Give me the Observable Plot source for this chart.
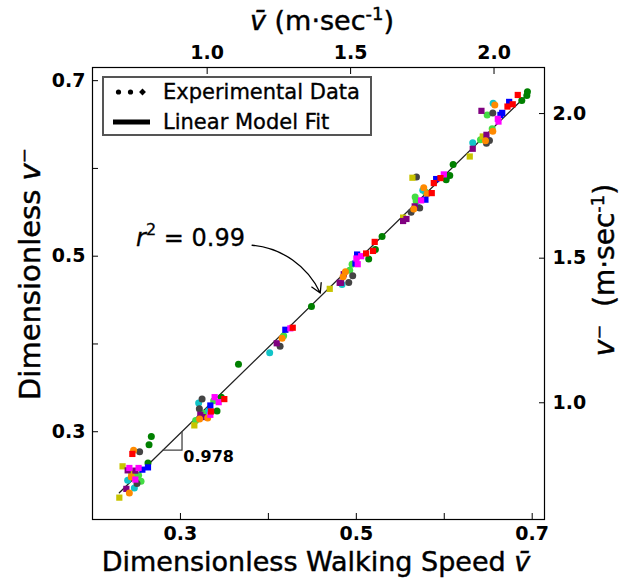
<!DOCTYPE html>
<html><head><meta charset="utf-8">
<script src="https://cdn.jsdelivr.net/npm/d3@7"></script>
<script src="https://cdn.jsdelivr.net/npm/@observablehq/plot@0.6"></script>
<style>
body{margin:0;background:#fff;}
#wrap{width:621px;height:581px;}
</style></head><body><div id="wrap"></div>
<script>
// ---- data: dimensionless walking speed (x) vs dimensionless v (y), per subject ----
const redPts = [[0.4277,0.4185],[0.5957,0.589],[0.5881,0.5833],[0.5858,0.5719],[0.5209,0.5163],[0.519,0.506],[0.5111,0.5031],[0.6836,0.6837],[0.6779,0.6731],[0.6719,0.6705],[0.3499,0.3372],[0.3348,0.3231],[0.2453,0.2747]];
const bluePts = [[0.4193,0.4162],[0.5908,0.5879],[0.5786,0.5644],[0.5009,0.5019],[0.499,0.4917],[0.6738,0.6758],[0.6659,0.6633],[0.6639,0.661],[0.334,0.3299],[0.2631,0.2594],[0.2567,0.2568]];
const greenPts = [[0.366,0.377],[0.449,0.4428],[0.6101,0.6045],[0.6063,0.592],[0.6022,0.5872],[0.5293,0.5224],[0.5217,0.5076],[0.5141,0.4969],[0.6946,0.6875],[0.6939,0.683],[0.6882,0.6773],[0.3465,0.3394],[0.3416,0.3235],[0.2669,0.2947],[0.2643,0.2852],[0.2631,0.2644]];
const limePts = [[0.4174,0.4095],[0.5786,0.5731],[0.5669,0.5674],[0.568,0.5629],[0.4952,0.4909],[0.4925,0.4841],[0.6488,0.661],[0.6545,0.6451],[0.6412,0.6326],[0.3378,0.3352],[0.3264,0.3212],[0.3173,0.3128],[0.2487,0.2503],[0.2524,0.2503],[0.2552,0.2435]];
const magentaPts = [[0.425,0.4178],[0.5995,0.5932],[0.5737,0.5636],[0.5001,0.4974],[0.5055,0.5],[0.5016,0.4909],[0.6609,0.6565],[0.6617,0.6534],[0.3389,0.3394],[0.3435,0.3337],[0.334,0.3193],[0.2524,0.2587],[0.2419,0.2587],[0.2487,0.2455]];
const cyanPts = [[0.4015,0.390],[0.5756,0.575],[0.5699,0.556],[0.4838,0.4678],[0.6556,0.6742],[0.6324,0.6292],[0.3207,0.3326],[0.3321,0.3242],[0.24,0.2447],[0.2476,0.236]];
const orangePts = [[0.4156,0.4065],[0.5767,0.5781],[0.5805,0.5712],[0.5653,0.5538],[0.4876,0.4822],[0.485,0.4765],[0.6575,0.6724],[0.6552,0.6424],[0.6469,0.6315],[0.3218,0.3144],[0.331,0.3156],[0.2467,0.2788],[0.2441,0.2485],[0.2419,0.2303]];
const purplePts = [[0.4095,0.4008],[0.4811,0.4697],[0.5664,0.5568],[0.5532,0.5401],[0.557,0.5424],[0.4857,0.4795],[0.4827,0.4697],[0.6423,0.6656],[0.648,0.6383],[0.6324,0.6224],[0.3226,0.3193],[0.3253,0.3167],[0.24,0.256],[0.2487,0.2557],[0.2385,0.2349]];
const grayPts = [[0.4133,0.3974],[0.5684,0.5902],[0.5721,0.5549],[0.5623,0.55],[0.4959,0.4776],[0.4914,0.4701],[0.6552,0.6633],[0.6514,0.6318],[0.648,0.6288],[0.3246,0.3372],[0.3215,0.3261],[0.2536,0.2773],[0.2506,0.2409]];
const yellowPts = [[0.4698,0.4628],[0.5638,0.5894],[0.5532,0.544],[0.6438,0.6364],[0.629,0.6136],[0.3158,0.3072],[0.2342,0.2606],[0.2441,0.253],[0.2305,0.2249]];

// linear model fit
const fitSlope = 0.978, fitIntercept = 0.005, fitR2 = 0.99;
const fitRange = [0.2305, 0.6943];
const slopeTriangleX = [0.2802, 0.3018];

// axes ticks
const xTicks = [0.3, 0.4, 0.5, 0.6, 0.7];
const yTicks = [0.3, 0.4, 0.5, 0.6, 0.7];
const labeledTicks = [0.3, 0.5, 0.7];
const speedTicks = [1.0, 1.5, 2.0];      // m·sec^-1
const topConv = {a: 0.0042, b: 0.3262};   // dimensionless = a + b * speed (top axis)
const rightConv = {a: 0.0035, b: 0.3295}; // right axis

// annotation anchors (data space)
const r2Label = {x: 0.312, y: 0.5105};
const r2Arrow = {x1: 0.3815, y1: 0.5125, x2: 0.459, y2: 0.458};
const slopeLabel = {x: 0.3033, y: 0.2716};

// ---- build ----
const fit = x => fitSlope * x + fitIntercept;
const fitPts = fitRange.map(x => ({x, y: fit(x)}));
const tri = [
  {x: slopeTriangleX[0], y: fit(slopeTriangleX[0])},
  {x: slopeTriangleX[1], y: fit(slopeTriangleX[0])},
  {x: slopeTriangleX[1], y: fit(slopeTriangleX[1])}
];
const subjects = [
  {pts: limePts, color: "#44dd44", symbol: "circle"},
  {pts: cyanPts, color: "#11c4c8", symbol: "circle"},
  {pts: grayPts, color: "#444444", symbol: "circle"},
  {pts: yellowPts, color: "#c8c400", symbol: "square"},
  {pts: purplePts, color: "#800080", symbol: "square"},
  {pts: orangePts, color: "#ff8a00", symbol: "circle"},
  {pts: greenPts, color: "#008000", symbol: "circle"},
  {pts: bluePts, color: "#0000ff", symbol: "square"},
  {pts: magentaPts, color: "#ff00ff", symbol: "square"},
  {pts: redPts, color: "#ff0000", symbol: "square"}
];
const isLabeled = d => labeledTicks.some(t => Math.abs(t - d) < 1e-6);
const font = "DejaVu Sans";

const plot = Plot.plot({
  width: 621, height: 581,
  marginLeft: 92, marginRight: 77, marginTop: 67, marginBottom: 62,
  x: {domain: [0.2, 0.714]},
  y: {domain: [0.2, 0.715]},
  style: {fontFamily: font, background: "#fff", color: "#000"},
  marks: [
    Plot.line(fitPts, {x: "x", y: "y", stroke: "#222", strokeWidth: 1.3}),
    Plot.line(tri, {x: "x", y: "y", stroke: "#444", strokeWidth: 1.3}),
    ...subjects.map(s => Plot.dot(s.pts, {x: d => d[0], y: d => d[1], fill: s.color, symbol: s.symbol, r: 3.5})),
    Plot.arrow([r2Arrow], {x1: "x1", y1: "y1", x2: "x2", y2: "y2", bend: 30, stroke: "#000", strokeWidth: 1.3, headLength: 12}),
    Plot.text([slopeLabel], {x: "x", y: "y", text: () => fitSlope.toFixed(3), textAnchor: "start", fontSize: 16, fontWeight: "bold"}),
    Plot.frame({stroke: "#000", strokeWidth: 1.2}),
    Plot.axisX({anchor: "bottom", ticks: xTicks, tickSize: -6, tickPadding: 13, tickFormat: d => isLabeled(d) ? d.toFixed(1) : "", label: null, fontSize: 19, fontWeight: "bold"}),
    Plot.axisY({anchor: "left", ticks: yTicks, tickSize: -6, tickPadding: 13, tickFormat: d => isLabeled(d) ? d.toFixed(1) : "", label: null, fontSize: 19, fontWeight: "bold"}),
    Plot.axisX({anchor: "top", ticks: speedTicks.map(v => topConv.a + topConv.b * v), tickSize: -6, tickPadding: 15, tickFormat: d => ((d - topConv.a) / topConv.b).toFixed(1), label: null, fontSize: 19, fontWeight: "bold"}),
    Plot.axisY({anchor: "right", ticks: speedTicks.map(v => rightConv.a + rightConv.b * v), tickSize: -6, tickPadding: 14, tickFormat: d => ((d - rightConv.a) / rightConv.b).toFixed(1), label: null, fontSize: 19, fontWeight: "bold"})
  ]
});
document.getElementById("wrap").appendChild(plot);

const svg = d3.select(plot);
const sx = plot.scale("x"), sy = plot.scale("y");
const T = (x, y, size, opts = {}) => {
  const t = svg.append("text").attr("x", x).attr("y", y)
    .attr("font-family", font).attr("font-size", size).attr("fill", "#000")
    .attr("stroke", "#000").attr("stroke-width", opts.sw == null ? 0.45 : opts.sw)
    .attr("text-anchor", opts.anchor || "middle");
  if (opts.rotate) t.attr("transform", `rotate(-90 ${x} ${y})`);
  return t;
};
const addParts = (t, parts) => parts.forEach(p => {
  const s = t.append("tspan").text(p.t);
  if (p.italic) s.attr("font-style", "italic");
  if (p.size) s.attr("font-size", p.size);
  if (p.dy) s.attr("dy", p.dy);
});

// bottom title
addParts(T(316, 571, 27), [{t: "Dimensionless Walking Speed "}, {t: "v\u0304", italic: true}]);
// top title
addParts(T(322, 30, 27), [{t: "v\u0304", italic: true}, {t: " (m·sec"}, {t: "-1", size: 18, dy: -10}, {t: ")", dy: 10}]);
// left title
addParts(T(40, 274, 29, {rotate: true}), [{t: "Dimensionless "}, {t: "v", italic: true}, {t: "\u207B"}]);
// right title
addParts(T(614, 270, 28, {rotate: true}), [{t: "v", italic: true}, {t: "\u207B  (m·sec"}, {t: "-1", size: 18, dy: -10}, {t: ")", dy: 10}]);
// r^2 label
addParts(T(sx.apply(r2Label.x), sy.apply(r2Label.y), 24, {sw: 0.3}), [{t: "r", italic: true}, {t: "2", size: 16, dy: -11}, {t: " = " + fitR2.toFixed(2), dy: 11}]);

// legend
const lg = svg.append("g");
lg.append("rect").attr("x", 103).attr("y", 77).attr("width", 268).attr("height", 58)
  .attr("fill", "#fff").attr("stroke", "#555").attr("stroke-width", 2);
lg.append("circle").attr("cx", 118.5).attr("cy", 92).attr("r", 2.6).attr("fill", "#000");
lg.append("circle").attr("cx", 130.5).attr("cy", 92).attr("r", 2.6).attr("fill", "#000");
lg.append("path").attr("d", d3.symbol(d3.symbolDiamond2, 30)()).attr("transform", "translate(142.5,92)").attr("fill", "#000");
lg.append("line").attr("x1", 113).attr("x2", 150).attr("y1", 122).attr("y2", 122).attr("stroke", "#000").attr("stroke-width", 5);
T(163, 99, 21, {anchor: "start", sw: 0.35}).text("Experimental Data");
T(163, 129, 21, {anchor: "start", sw: 0.35}).text("Linear Model Fit");
</script>
</body></html>
